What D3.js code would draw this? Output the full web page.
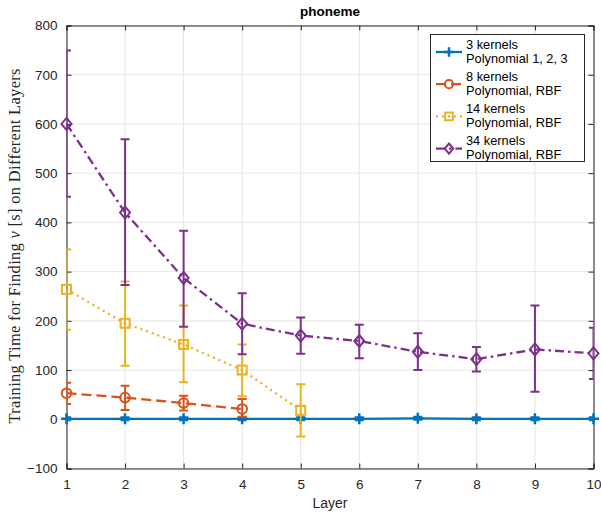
<!DOCTYPE html>
<html><head><meta charset="utf-8">
<script src="https://cdn.jsdelivr.net/npm/d3@7"></script>
<style>body{margin:0;background:#fff}svg{display:block}</style>
</head><body><div id="chart"></div>
<script>
const layers = [1,2,3,4,5,6,7,8,9,10];
const seriesNames = ["3 kernels", "8 kernels", "14 kernels", "34 kernels"];
const seriesSub = ["Polynomial 1, 2, 3", "Polynomial, RBF", "Polynomial, RBF", "Polynomial, RBF"];
const mean3 = [1,1,1,1,1,1,2,1,1,1];
const err3  = [3,3,3,3,3,3,3,3,3,3];
const mean8 = [53,44,33,21];
const lo8   = [31,19,18,5];
const hi8   = [74,68,48,41];
const mean14 = [264,195,152,100,18];
const lo14   = [182,109,75,47,-35];
const hi14   = [345,280,231,152,71];
const mean34 = [600,420,287,194,170,159,137,122,142,134];
const lo34   = [452,273,188,132,133,124,100,97,56,82];
const hi34   = [749,569,383,256,207,192,175,147,231,186];
const xTicks = [1,2,3,4,5,6,7,8,9,10];
const yTicks = [-100,0,100,200,300,400,500,600,700,800];

const W = 601, H = 514;
const m = {left:66.5, right:7.5, top:25.5, bottom:45.5};
const svg = d3.select("#chart").append("svg").attr("width",W).attr("height",H);
const x = d3.scaleLinear().domain([1,10]).range([m.left, W-m.right]);
const y = d3.scaleLinear().domain([-100,800]).range([H-m.bottom, m.top]);
const font = "'Liberation Sans', Arial, Helvetica, sans-serif";
const axisCol = "#262626";

svg.append("defs").append("clipPath").attr("id","clip").append("rect")
  .attr("x",m.left).attr("y",m.top).attr("width",W-m.left-m.right).attr("height",H-m.top-m.bottom);

// grid
const g = svg.append("g");
g.selectAll(".gx").data(xTicks).enter().append("line")
  .attr("x1",d=>x(d)).attr("x2",d=>x(d)).attr("y1",m.top).attr("y2",H-m.bottom)
  .attr("stroke","#e6e6e6").attr("stroke-width",1);
g.selectAll(".gy").data(yTicks).enter().append("line")
  .attr("y1",d=>y(d)).attr("y2",d=>y(d)).attr("x1",m.left).attr("x2",W-m.right)
  .attr("stroke","#e6e6e6").attr("stroke-width",1);

// axes
const tl = 5;
const ax = svg.append("g").attr("transform",`translate(0,${H-m.bottom})`)
  .call(d3.axisBottom(x).tickValues(xTicks).tickSize(-tl).tickPadding(11).tickFormat(d3.format("d")));
const axT = svg.append("g").attr("transform",`translate(0,${m.top})`)
  .call(d3.axisTop(x).tickValues(xTicks).tickSize(-tl).tickFormat(""));
const ay = svg.append("g").attr("transform",`translate(${m.left},0)`)
  .call(d3.axisLeft(y).tickValues(yTicks).tickSize(-tl).tickPadding(9).tickFormat(d3.format("d")));
const ayR = svg.append("g").attr("transform",`translate(${W-m.right},0)`)
  .call(d3.axisRight(y).tickValues(yTicks).tickSize(-tl).tickFormat(""));
[ax,axT,ay,ayR].forEach(a=>{
  a.selectAll("path").attr("stroke",axisCol).attr("stroke-width",1);
  a.selectAll("line").attr("stroke",axisCol);
  a.selectAll("text").attr("fill",axisCol).style("font-family",font).style("font-size","13.5px");
});

// series
const series = [
  {mean:mean3, lo:mean3.map((v,i)=>v-err3[i]), hi:mean3.map((v,i)=>v+err3[i]), color:"#0072BD", dash:null, marker:"plus"},
  {mean:mean8, lo:lo8, hi:hi8, color:"#D95319", dash:"10,5", marker:"circle"},
  {mean:mean14, lo:lo14, hi:hi14, color:"#EDB120", dash:"2,4", marker:"square"},
  {mean:mean34, lo:lo34, hi:hi34, color:"#7E2F8E", dash:"9,4,2.5,4", marker:"diamond"}
];
const plot = svg.append("g");
function drawMarker(sel, type, color, cx, cy, k){
  k = k || 1;
  if(type==="plus"){
    sel.append("path").attr("d",`M${cx-5.5*k},${cy}H${cx+5.5*k}M${cx},${cy-5.5*k}V${cy+5.5*k}`)
      .attr("stroke",color).attr("stroke-width",2.5).attr("fill","none");
  } else if(type==="circle"){
    sel.append("circle").attr("cx",cx).attr("cy",cy).attr("r",4.8*k)
      .attr("stroke",color).attr("stroke-width",2).attr("fill","none");
  } else if(type==="square"){
    sel.append("rect").attr("x",cx-4.5*k).attr("y",cy-4.5*k).attr("width",9*k).attr("height",9*k)
      .attr("stroke",color).attr("stroke-width",2).attr("fill","none");
  } else {
    sel.append("path").attr("d",`M${cx},${cy-6*k}L${cx+5*k},${cy}L${cx},${cy+6*k}L${cx-5*k},${cy}Z`)
      .attr("stroke",color).attr("stroke-width",2).attr("fill","none");
  }
}
series.forEach(s=>{
  const gs = plot.append("g");
  const gc = gs.append("g").attr("clip-path","url(#clip)");
  const pts = s.mean.map((v,i)=>({x:layers[i], v, lo:s.lo[i], hi:s.hi[i]}));
  pts.forEach(p=>{
    const cx = x(p.x);
    gc.append("path").attr("d",`M${cx},${y(p.lo)}V${y(p.hi)}M${cx-4.5},${y(p.lo)}H${cx+4.5}M${cx-4.5},${y(p.hi)}H${cx+4.5}`)
      .attr("stroke",s.color).attr("stroke-width",2).attr("fill","none");
  });
  gc.append("path").datum(pts)
    .attr("d",d3.line().x(d=>x(d.x)).y(d=>y(d.v)))
    .attr("stroke",s.color).attr("stroke-width",2.3).attr("fill","none")
    .attr("stroke-dasharray",s.dash);
  pts.forEach(p=>drawMarker(gs, s.marker, s.color, x(p.x), y(p.v)));
});

// title
svg.append("text").attr("x",(m.left+W-m.right)/2).attr("y",16).attr("text-anchor","middle")
  .style("font-family",font).style("font-size","13.5px").style("font-weight","bold").attr("fill","#000").text("phoneme");
// x label
svg.append("text").attr("x",(m.left+W-m.right)/2).attr("y",508).attr("text-anchor","middle")
  .style("font-family",font).style("font-size","14px").attr("fill",axisCol).text("Layer");
// y label
const yl = svg.append("text").attr("transform",`translate(20,246) rotate(-90)`)
  .attr("text-anchor","middle").style("font-family","'Liberation Serif','Times New Roman',serif")
  .style("font-size","16.5px").attr("fill",axisCol)
  .attr("textLength",355).attr("lengthAdjust","spacing");
yl.append("tspan").text("Training Time for Finding ");
yl.append("tspan").style("font-style","italic").text("ν");
yl.append("tspan").text(" [s] on Different Layers");

// legend
const lg = svg.append("g");
lg.append("rect").attr("x",430.5).attr("y",34.5).attr("width",154).attr("height",127)
  .attr("fill","#fff").attr("stroke",axisCol).attr("stroke-width",1);
series.forEach((s,i)=>{
  const yy = 52 + i*32.2;
  const row = lg.append("g");
  row.append("line").attr("x1",436).attr("x2",462).attr("y1",yy).attr("y2",yy)
    .attr("stroke",s.color).attr("stroke-width",2.3).attr("stroke-dasharray",s.dash);
  drawMarker(row, s.marker, s.color, 449, yy, 0.85);
  row.append("text").attr("x",466).attr("y",yy-3.5).style("font-family",font).style("font-size","12.8px")
    .attr("fill","#000").text(seriesNames[i]);
  row.append("text").attr("x",466).attr("y",yy+10.5).style("font-family",font).style("font-size","12.8px")
    .attr("fill","#000").text(seriesSub[i]);
});
</script></body></html>
